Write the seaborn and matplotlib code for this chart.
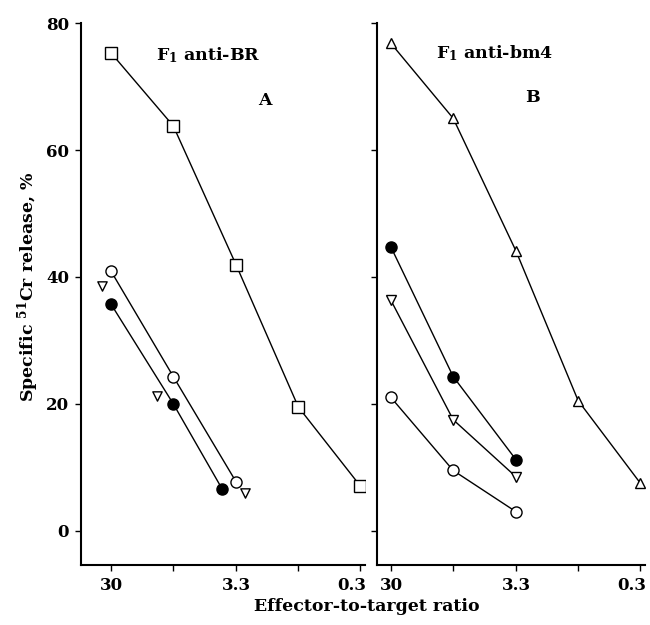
import matplotlib
matplotlib.use("Agg")
import matplotlib.pyplot as plt
from matplotlib.ticker import NullLocator
from matplotlib.transforms import ScaledTranslation
import seaborn as sns

# effector-to-target ratios (threefold dilutions)
ratios = [30, 10, 3.3, 1.1, 0.37]
tick_labels = ["30", "", "3.3", "", "0.3"]

# panel A: F1 anti-BR
a_square = [75.3, 63.8, 41.9, 19.5, 7.1]
a_open_x = [30, 10, 3.3]
a_open = [40.9, 24.3, 7.7]
a_filled_x = [30, 10, 4.2]
a_filled = [35.7, 20.0, 6.5]
a_tri_x = [35.2, 13.3, 2.8]
a_tri = [38.6, 21.3, 6.0]

# panel B: F1 anti-bm4
b_tri_up = [76.8, 65.0, 44.1, 20.5, 7.6]
b_x = [30, 10, 3.3]
b_filled = [44.7, 24.3, 11.2]
b_tri_down = [36.3, 17.5, 8.5]
b_open = [21.0, 9.5, 3.0]

sns.set_theme(style="ticks")
plt.rcParams["font.family"] = ["DejaVu Serif"]
plt.rcParams["font.weight"] = "bold"
plt.rcParams["mathtext.fontset"] = "dejavuserif"
plt.rcParams["mathtext.default"] = "bf"
plt.rcParams["text.color"] = "black"

fig = plt.figure(figsize=(6.5, 6.25), dpi=100)
ax_a = fig.add_axes([0.1246, 0.096, 0.437, 0.867])
ax_b = fig.add_axes([0.580, 0.096, 0.412, 0.867])

line_kw = dict(color="black", linewidth=1.0, markeredgecolor="black",
               markeredgewidth=1.0, zorder=3)


def open_line(ax, x, y, marker, size):
    sns.lineplot(x=x, y=y, marker=marker, markersize=size,
                 markerfacecolor="white", ax=ax, **line_kw)


def filled_line(ax, x, y, size):
    sns.lineplot(x=x, y=y, marker="o", markersize=size,
                 markerfacecolor="black", ax=ax, **line_kw)


open_line(ax_a, ratios, a_square, "s", 8.5)
open_line(ax_a, a_open_x, a_open, "o", 8)
filled_line(ax_a, a_filled_x, a_filled, 8)
sns.scatterplot(x=a_tri_x, y=a_tri, marker="v", s=45, facecolor="white",
                edgecolor="black", linewidth=1.0, ax=ax_a, zorder=4)

open_line(ax_b, ratios, b_tri_up, "^", 7.5)
filled_line(ax_b, b_x, b_filled, 8)
open_line(ax_b, b_x, b_tri_down, "v", 7.5)
open_line(ax_b, b_x, b_open, "o", 8)

shift = ScaledTranslation(-8 / 100, 0, fig.dpi_scale_trans)
for ax, left in [(ax_a, 51.0), (ax_b, 38.4)]:
    ax.set_xscale("log")
    ax.set_xlim(left, 0.339)
    ax.set_ylim(-5.4, 80)
    ax.set_xticks(ratios)
    ax.set_xticklabels(tick_labels)
    ax.xaxis.set_minor_locator(NullLocator())
    ax.set_yticks([0, 20, 40, 60, 80])
    ax.tick_params(direction="out", length=4.5, width=1.0, labelsize=12,
                   color="black", labelcolor="black", pad=4)
    for side in ["left", "bottom"]:
        ax.spines[side].set_linewidth(1.5)
        ax.spines[side].set_color("black")
    sns.despine(ax=ax)
    ax.set_xlabel("")
    ax.set_ylabel("")
    for lab in ax.get_xticklabels() + ax.get_yticklabels():
        lab.set_fontweight("bold")
    last = ax.get_xticklabels()[-1]
    last.set_transform(last.get_transform() + shift)

ax_b.tick_params(labelleft=False)

ax_a.text(0.447, 0.941, r"F$_1$ anti-BR", transform=ax_a.transAxes,
          ha="center", va="center", fontsize=12.5, fontweight="bold")
ax_a.text(0.648, 0.858, "A", transform=ax_a.transAxes,
          ha="center", va="center", fontsize=12.5, fontweight="bold")
ax_b.text(0.44, 0.945, r"F$_1$ anti-bm4", transform=ax_b.transAxes,
          ha="center", va="center", fontsize=12.5, fontweight="bold")
ax_b.text(0.582, 0.862, "B", transform=ax_b.transAxes,
          ha="center", va="center", fontsize=12.5, fontweight="bold")

fig.text(0.565, 0.03, "Effector-to-target ratio", ha="center", va="center",
         fontsize=12.5, fontweight="bold")
fig.text(0.043, 0.541, r"Specific $^{51}$Cr release, %", ha="center",
         va="center", rotation=90, fontsize=12.5, fontweight="bold")

fig.savefig("out.png", dpi=100, facecolor="white")
